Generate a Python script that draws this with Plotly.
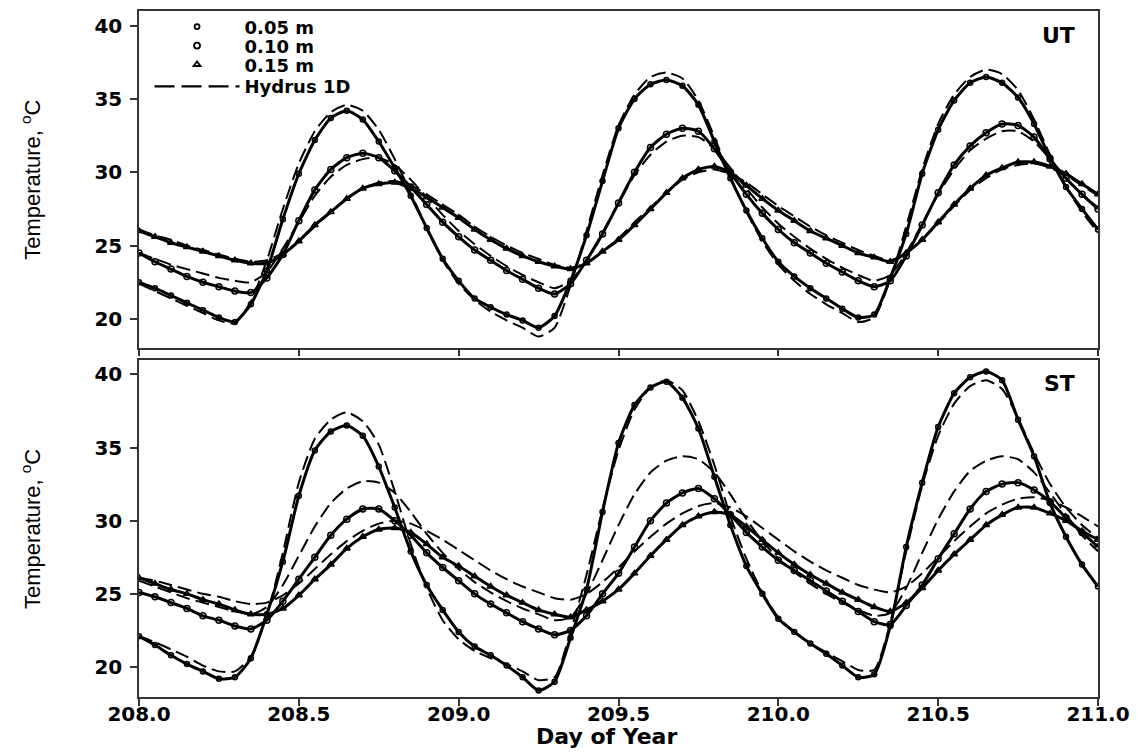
import plotly.graph_objects as go

# Day of year grid (every 0.05 day)
day = [round(208 + 0.05 * i, 2) for i in range(61)]

# ---------------- UT (upper panel) ----------------
ut_obs_005 = [22.5, 22.1, 21.6, 21.1, 20.6, 20.1, 19.8, 21.0, 23.3, 26.8,
              29.9, 32.2, 33.7, 34.2, 33.6, 32.1, 30.3, 28.4, 26.2, 24.1,
              22.6, 21.4, 20.8, 20.3, 19.9, 19.4, 20.2, 22.6, 25.7, 29.4,
              33.0, 35.0, 36.0, 36.3, 35.9, 34.6, 32.1, 29.6, 27.4, 25.5,
              23.9, 22.9, 22.1, 21.4, 20.7, 20.1, 20.3, 22.8, 25.8, 29.9,
              32.9, 34.9, 36.1, 36.5, 36.1, 35.1, 33.3, 31.0, 29.0, 27.5,
              26.1]
ut_obs_010 = [24.5, 23.9, 23.4, 22.9, 22.5, 22.2, 21.9, 21.8, 22.8, 24.4,
              26.7, 28.8, 30.2, 31.0, 31.3, 31.0, 30.1, 29.0, 27.8, 26.6,
              25.6, 24.7, 24.0, 23.3, 22.7, 22.1, 21.7, 22.4, 24.0, 25.8,
              27.9, 30.0, 31.7, 32.6, 33.0, 32.8, 31.6, 30.0, 28.5, 27.2,
              26.1, 25.2, 24.5, 23.8, 23.2, 22.6, 22.2, 22.6, 24.3, 26.4,
              28.6, 30.5, 31.8, 32.7, 33.3, 33.2, 32.4, 30.9, 29.6, 28.5,
              27.5]
ut_obs_015 = [26.0, 25.6, 25.2, 24.9, 24.6, 24.3, 24.0, 23.8, 23.8, 24.4,
              25.3, 26.4, 27.3, 28.2, 28.9, 29.2, 29.3, 28.9, 28.3, 27.6,
              26.9, 26.1, 25.4, 24.8, 24.3, 23.9, 23.6, 23.4, 23.8, 24.6,
              25.4, 26.4, 27.5, 28.6, 29.6, 30.2, 30.4, 30.0, 29.1, 28.2,
              27.4, 26.7, 26.0, 25.5, 25.0, 24.5, 24.2, 23.9, 24.5, 25.4,
              26.6, 27.8, 28.9, 29.8, 30.3, 30.7, 30.7, 30.4, 29.9, 29.2,
              28.5]
ut_hyd_005 = [22.4, 21.9, 21.4, 20.9, 20.4, 19.9, 19.7, 21.2, 24.0, 27.5,
              30.6, 32.8, 34.1, 34.6, 34.2, 32.9, 30.9, 28.6, 26.2, 24.0,
              22.4, 21.3, 20.5, 19.9, 19.4, 18.8, 19.4, 22.3, 26.0, 29.8,
              33.2, 35.3, 36.5, 36.8, 36.4, 34.9, 32.4, 29.7, 27.3, 25.3,
              23.7, 22.6, 21.7, 21.0, 20.4, 19.8, 20.1, 22.7, 26.3, 30.2,
              33.3, 35.3, 36.5, 37.0, 36.7, 35.6, 33.6, 31.2, 29.0, 27.3,
              25.9]
ut_hyd_010 = [24.5, 24.1, 23.7, 23.4, 23.1, 22.8, 22.6, 22.5, 23.2, 24.8,
              26.6, 28.4, 29.7, 30.5, 30.9, 31.0, 30.5, 29.5, 28.3, 27.1,
              26.0, 25.1, 24.3, 23.6, 23.0, 22.5, 22.1, 22.6, 24.0, 25.9,
              27.9, 29.8, 31.2, 32.1, 32.5, 32.4, 31.6, 30.3, 28.9, 27.6,
              26.5, 25.6, 24.8, 24.1, 23.5, 23.0, 22.6, 23.0, 24.5, 26.5,
              28.5, 30.2, 31.5, 32.3, 32.8, 32.8, 32.1, 30.9, 29.6, 28.5,
              27.6]
ut_hyd_015 = [26.1, 25.7, 25.4, 25.0, 24.7, 24.4, 24.1, 23.9, 24.0, 24.5,
              25.3, 26.3, 27.3, 28.2, 28.9, 29.3, 29.4, 29.1, 28.5, 27.8,
              27.1, 26.3, 25.6, 25.0, 24.5, 24.1, 23.7, 23.5, 23.8, 24.6,
              25.5, 26.6, 27.6, 28.6, 29.5, 30.0, 30.2, 29.9, 29.3, 28.5,
              27.7, 27.0, 26.3, 25.7, 25.2, 24.7, 24.3, 24.0, 24.5, 25.4,
              26.5, 27.7, 28.8, 29.6, 30.2, 30.5, 30.6, 30.3, 29.8, 29.1,
              28.4]

# ---------------- ST (lower panel) ----------------
st_obs_005 = [22.1, 21.5, 20.8, 20.2, 19.7, 19.2, 19.3, 20.6, 23.6, 27.2,
              31.7, 34.8, 36.1, 36.5, 35.8, 33.7, 30.9, 27.9, 25.6, 23.9,
              22.4, 21.4, 20.8, 20.1, 19.3, 18.4, 19.0, 22.0, 25.3, 30.6,
              35.3, 37.9, 39.1, 39.5, 38.4, 36.3, 33.0, 29.7, 26.9, 25.0,
              23.3, 22.4, 21.6, 20.9, 20.1, 19.3, 19.5, 22.8, 28.2, 32.6,
              36.4, 38.7, 39.8, 40.2, 39.6, 36.9, 34.4, 31.2, 28.9, 27.0,
              25.5]
st_obs_010 = [25.1, 24.8, 24.4, 24.0, 23.5, 23.2, 22.8, 22.6, 23.2, 24.5,
              26.0, 27.5, 29.0, 30.1, 30.8, 30.8, 30.0, 29.0, 27.8, 26.8,
              25.9, 25.0, 24.3, 23.7, 23.1, 22.6, 22.2, 22.5, 23.5, 25.0,
              26.4, 28.2, 30.0, 31.2, 31.9, 32.2, 31.5, 30.4, 29.2, 28.2,
              27.3, 26.6, 25.9, 25.2, 24.5, 23.8, 23.1, 22.9, 24.2, 25.6,
              27.4, 29.1, 30.8, 32.0, 32.5, 32.6, 32.1, 31.3, 30.2, 29.2,
              28.2]
st_obs_015 = [26.1, 25.7, 25.3, 25.0, 24.6, 24.3, 23.9, 23.6, 23.6, 24.0,
              24.9, 26.0, 27.0, 28.1, 28.9, 29.4, 29.5, 29.2, 28.4, 27.5,
              26.9, 26.2, 25.5, 24.9, 24.4, 23.9, 23.6, 23.4, 23.9, 24.5,
              25.3, 26.4, 27.6, 28.7, 29.7, 30.3, 30.6, 30.4, 29.6, 28.7,
              27.8, 27.0, 26.3, 25.7, 25.1, 24.6, 24.1, 23.8, 24.4, 25.4,
              26.6, 27.7, 28.7, 29.7, 30.4, 30.9, 30.9, 30.5, 30.0, 29.3,
              28.7]
st_hyd_005 = [22.1, 21.7, 21.2, 20.7, 20.1, 19.7, 19.7, 20.7, 23.5, 27.8,
              32.6, 35.6, 36.9, 37.4, 36.8, 35.2, 32.0, 28.4, 25.4, 23.2,
              21.9, 21.1, 20.6, 20.2, 19.7, 19.1, 19.3, 22.4, 26.3, 30.8,
              34.8, 37.6, 39.1, 39.6, 38.9, 36.8, 33.8, 30.3, 27.4, 25.1,
              23.4, 22.4, 21.6, 21.0, 20.4, 19.8, 19.8, 23.0, 27.9, 32.4,
              35.8, 38.0, 39.2, 39.6, 39.0, 37.0, 34.6, 32.5, 30.9, 29.7,
              28.8]
st_hyd_010 = [25.9, 25.5, 25.1, 24.7, 24.4, 24.1, 23.8, 23.6, 24.1, 25.6,
              27.6, 29.6, 31.2, 32.2, 32.7, 32.6, 31.9, 30.6, 29.1, 27.8,
              26.7, 25.8, 25.1, 24.5, 24.0, 23.6, 23.2, 23.4, 25.0, 27.3,
              29.7, 31.8, 33.3, 34.1, 34.4, 34.2, 33.3, 31.8, 30.1, 28.6,
              27.4, 26.5, 25.7, 25.0, 24.4, 23.9, 23.5, 23.7, 25.4, 27.8,
              30.1, 32.0, 33.4, 34.1, 34.4, 34.2, 33.3, 31.9, 30.4, 29.0,
              27.9]
st_hyd_015 = [26.1, 25.9, 25.6, 25.3, 25.0, 24.8, 24.5, 24.3, 24.4, 24.9,
              25.7, 26.7, 27.7, 28.6, 29.3, 29.8, 30.0, 29.8, 29.3, 28.7,
              28.0, 27.3, 26.6, 26.0, 25.5, 25.1, 24.7, 24.6, 25.0, 25.8,
              26.8, 27.9, 28.9, 29.8, 30.5, 31.0, 31.2, 30.9, 30.3, 29.5,
              28.7, 27.9, 27.2, 26.6, 26.1, 25.6, 25.3, 25.1, 25.5, 26.4,
              27.5, 28.6, 29.6, 30.5, 31.1, 31.5, 31.6, 31.4, 30.9, 30.3,
              29.6]

depth_labels = ["0.05 m", "0.10 m", "0.15 m"]
model_label = "Hydrus 1D"
panel_labels = ["UT", "ST"]
x_ticks = [208.0, 208.5, 209.0, 209.5, 210.0, 210.5, 211.0]
y_ticks = [20, 25, 30, 35, 40]

BLACK = "#000000"
symbols = ["circle-open", "circle-open", "triangle-up-open"]
msizes = [5, 6, 6]

fig = go.Figure()

panels = [
    ("x", "y", [ut_obs_005, ut_obs_010, ut_obs_015], [ut_hyd_005, ut_hyd_010, ut_hyd_015]),
    ("x2", "y2", [st_obs_005, st_obs_010, st_obs_015], [st_hyd_005, st_hyd_010, st_hyd_015]),
]

for xa, ya, obs, hyd in panels:
    for k, series in enumerate(obs):
        fig.add_trace(go.Scatter(
            x=day, y=series, xaxis=xa, yaxis=ya, mode="lines+markers",
            line=dict(color=BLACK, width=3, shape="spline", smoothing=0.6),
            marker=dict(symbol=symbols[k], size=msizes[k], color=BLACK,
                        line=dict(color=BLACK, width=1.5)),
            showlegend=False, hoverinfo="skip"))
    for k, series in enumerate(hyd):
        fig.add_trace(go.Scatter(
            x=day, y=series, xaxis=xa, yaxis=ya, mode="lines",
            line=dict(color=BLACK, width=2, dash="14px,6px", shape="spline", smoothing=0.6),
            showlegend=False, hoverinfo="skip"))

# Legend entries, each in its own legend box so rows can be spaced like the original
legend_font = dict(family="DejaVu Sans", size=18, color=BLACK, weight="bold")
row_y = [0.9768, 0.9492, 0.9216, 0.8897]
legend_ids = ["legend", "legend2", "legend3", "legend4"]
for k, lab in enumerate(depth_labels):
    fig.add_trace(go.Scatter(
        x=[None], y=[None], xaxis="x", yaxis="y", mode="markers", name=lab,
        legend=legend_ids[k],
        marker=dict(symbol=symbols[k], size=[5, 6, 6][k], color=BLACK,
                    line=dict(color=BLACK, width=1.8))))
fig.add_trace(go.Scatter(
    x=[None], y=[None], xaxis="x", yaxis="y", mode="lines", name=model_label,
    legend=legend_ids[3],
    line=dict(color=BLACK, width=2.2, dash="20px,7px")))

legend_common = dict(x=0.011, xanchor="left", yanchor="middle",
                     bgcolor="rgba(0,0,0,0)", borderwidth=0, itemwidth=85,
                     font=legend_font)

tickfont = dict(family="DejaVu Sans", size=20, color=BLACK, weight="bold")
axis_common = dict(showline=True, linecolor="#333333", linewidth=1.5, mirror=True,
                   ticks="outside", ticklen=7, tickwidth=1.5, tickcolor="#333333",
                   showgrid=False, zeroline=False, tickfont=tickfont)

top_dom = [0.5094, 1.0]
bot_dom = [0.0, 0.4906]

# page body has an 8px margin, so the figure is sized/margined to put the plot area
# at the same place as in the original
fig.update_layout(
    width=1138, height=745,
    margin=dict(l=131, r=48, t=0, b=56),
    paper_bgcolor="white", plot_bgcolor="white",
    showlegend=True,
    legend=dict(y=row_y[0], **legend_common),
    legend2=dict(y=row_y[1], **legend_common),
    legend3=dict(y=row_y[2], **legend_common),
    legend4=dict(y=row_y[3], **legend_common),
    xaxis=dict(domain=[0, 1], anchor="y", range=[208, 211], tickvals=x_ticks,
               showticklabels=False, **axis_common),
    yaxis=dict(domain=top_dom, anchor="x", range=[18.05, 41.0], tickvals=y_ticks,
               ticklabelstandoff=4, **axis_common),
    xaxis2=dict(domain=[0, 1], anchor="y2", range=[208, 211], tickvals=x_ticks,
                ticktext=[f"{v:.1f}" for v in x_ticks], tickmode="array",
                ticklabelstandoff=-9, **axis_common),
    yaxis2=dict(domain=bot_dom, anchor="x2", range=[17.95, 40.95], tickvals=y_ticks,
                ticklabelstandoff=4, **axis_common),
)

ytitle_font = dict(family="Liberation Sans, Arial, sans-serif", size=22, color=BLACK)
annos = [
    dict(text=panel_labels[0], x=0.978, y=0.9637, xref="paper", yref="paper",
         xanchor="right", yanchor="middle", showarrow=False,
         font=dict(family="DejaVu Sans", size=22, color=BLACK, weight="bold")),
    dict(text=panel_labels[1], x=0.978, y=0.457, xref="paper", yref="paper",
         xanchor="right", yanchor="middle", showarrow=False,
         font=dict(family="DejaVu Sans", size=22, color=BLACK, weight="bold")),
    dict(text="Temperature, <sup>o</sup>C", x=-0.1126, y=0.754, xref="paper", yref="paper",
         xanchor="center", yanchor="middle", textangle=-90, showarrow=False, font=ytitle_font),
    dict(text="Temperature, <sup>o</sup>C", x=-0.1126, y=0.245, xref="paper", yref="paper",
         xanchor="center", yanchor="middle", textangle=-90, showarrow=False, font=ytitle_font),
    dict(text="Day of Year", x=0.488, y=-0.0580, xref="paper", yref="paper",
         xanchor="center", yanchor="middle", showarrow=False, borderpad=0,
         font=dict(family="DejaVu Sans", size=22, color=BLACK, weight="bold")),
]
fig.update_layout(annotations=annos)

fig.write_html("out.html")
